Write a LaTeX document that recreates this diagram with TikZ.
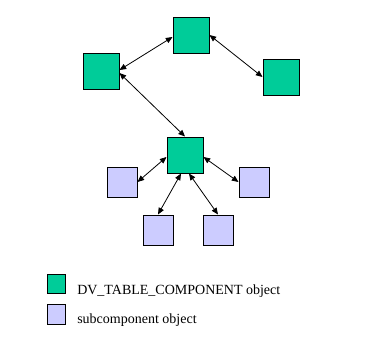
\documentclass[tikz,border=0pt]{standalone}
\usepackage{fontspec}
\setmainfont{Liberation Serif}
\usetikzlibrary{arrows.meta,calc}
\begin{document}
\begin{tikzpicture}[x=0.75pt,y=-0.75pt,
  tc/.style={draw=black,line width=0.75pt,fill=tccol,inner sep=0pt,minimum size=27pt},
  sc/.style={draw=black,line width=0.75pt,fill=sccol,inner sep=0pt,minimum size=22.5pt},
  lg/.style={draw=black,line width=0.75pt,inner sep=0pt,minimum width=13.5pt,minimum height=14.5pt},
  lbl/.style={anchor=base west,inner sep=0pt,font=\fontsize{10.5}{12}\selectfont},
  conn/.style={line width=0.6pt,{Triangle[length=5pt,width=4.2pt]}-{Triangle[length=5pt,width=4.2pt]}}
]
\definecolor{tccol}{HTML}{00CC99}
\definecolor{sccol}{HTML}{CCCCFF}
\useasboundingbox[fill=white] (0,0) rectangle (383,339);
\node[tc] (top) at (191,35) {};
\node[tc] (lft) at (101,71) {};
\node[tc] (rgt) at (281,77) {};
\node[tc] (mid) at (185,155) {};
\node[sc] (sl) at (122,182) {};
\node[sc] (sr) at (254,182) {};
\node[sc] (bl) at (158,230) {};
\node[sc] (br) at (218,230) {};
\node[lg,fill=tccol] (lg1) at (56.5,284) {};
\node[lg,fill=sccol] (lg2) at (56.5,314.5) {};
\node[lbl] (t1) at (77,294) {DV\_TABLE\_COMPONENT object};
\node[lbl] (t2) at (77,323) {subcomponent object};
\draw[conn] ($(top.west)+(0,2)$) -- ($(lft.east)+(0,-1)$);
\draw[conn] (top.east) -- (rgt.west);
\draw[conn] ($(lft.east)+(0,2)$) -- (mid.north);
\draw[conn] ($(mid.west)+(0,2)$) -- (sl.east);
\draw[conn] ($(mid.east)+(0,2)$) -- (sr.west);
\draw[conn] ($(mid.south)+(-4,0)$) -- (bl.north);
\draw[conn] ($(mid.south)+(4,0)$) -- (br.north);
\end{tikzpicture}
\end{document}
